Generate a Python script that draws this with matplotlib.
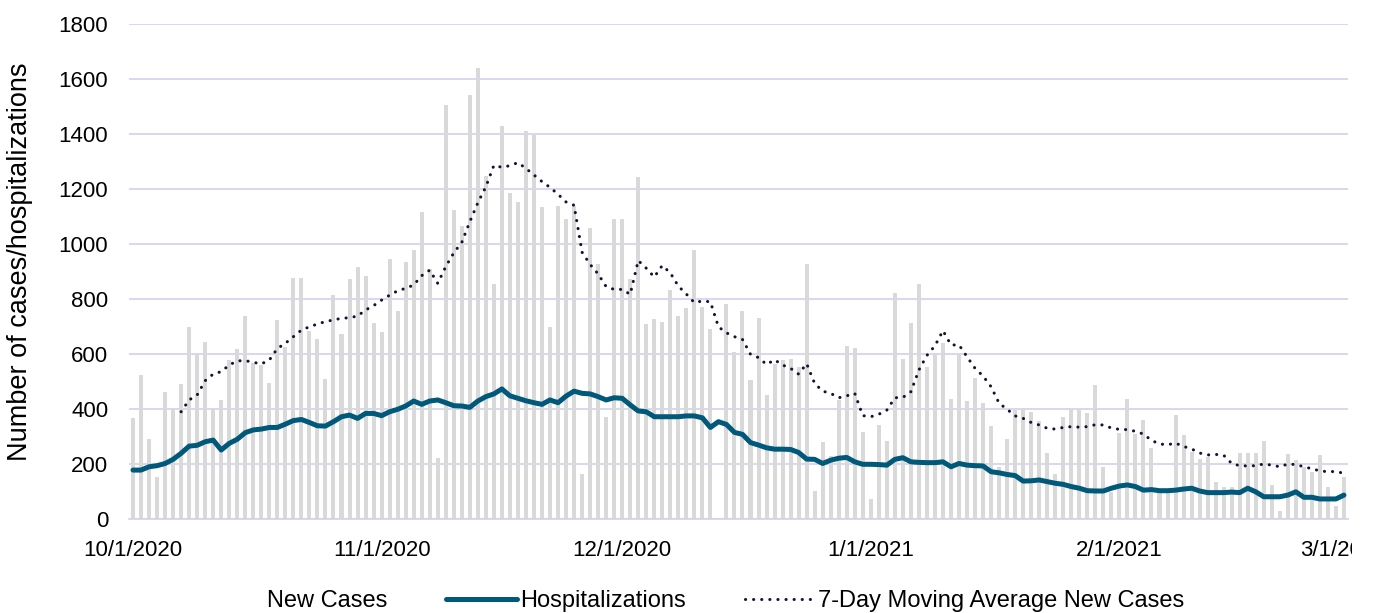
# -*- coding: utf-8 -*-
# covid_cases_chart.py
# daily new cases (bars), hospitalizations and 7-day moving average

import pandas as pd
import matplotlib
matplotlib.use("Agg")
from matplotlib import pyplot as plt
from matplotlib.patches import Patch
from matplotlib.lines import Line2D
from matplotlib.transforms import Bbox

plt.rcParams['font.family'] = ['Liberation Sans', 'DejaVu Sans']

# 数据 (10/1/2020 - 3/1/2021)
dates = pd.date_range('2020-10-01', '2021-03-01', freq='D')

new_cases = [366, 522, 291, 153, 463, 405, 492, 697, 599, 642,
             405, 434, 578, 618, 739, 568, 560, 494, 724, 625,
             877, 877, 685, 653, 508, 815, 673, 873, 915, 885,
             713, 681, 945, 756, 935, 977, 1115, 910, 223, 1505,
             1124, 1065, 1542, 1639, 1246, 856, 1429, 1185, 1154, 1410,
             1396, 1133, 699, 1138, 1090, 1140, 164, 1057, 927, 370,
             1091, 1091, 874, 1244, 709, 727, 715, 834, 738, 766,
             979, 772, 691, 0, 781, 608, 756, 504, 730, 451,
             565, 578, 581, 554, 926, 103, 281, 230, 433, 628,
             621, 315, 73, 341, 284, 822, 582, 713, 855, 554,
             599, 641, 436, 596, 429, 514, 423, 338, 190, 292,
             396, 405, 390, 358, 240, 164, 372, 405, 400, 384,
             487, 188, 100, 314, 435, 311, 360, 257, 100, 100,
             380, 305, 245, 218, 226, 136, 118, 118, 241, 241,
             241, 285, 124, 30, 236, 215, 190, 172, 233, 115,
             47, 154]

hospitalizations = [178, 178, 190, 194, 202, 217, 239, 265, 268, 281,
                    287, 251, 275, 290, 314, 324, 327, 333, 333, 345,
                    358, 362, 351, 339, 338, 354, 372, 378, 366, 384,
                    384, 376, 390, 399, 411, 429, 417, 429, 433, 423,
                    412, 411, 406, 429, 445, 455, 473, 448, 439, 430,
                    423, 417, 433, 423, 447, 465, 457, 455, 445, 433,
                    441, 439, 415, 393, 390, 372, 372, 372, 372, 375,
                    375, 368, 333, 354, 344, 315, 308, 278, 269, 259,
                    254, 254, 253, 242, 218, 217, 202, 214, 221, 224,
                    208, 199, 199, 198, 196, 217, 223, 208, 206, 205,
                    205, 208, 190, 202, 196, 194, 193, 172, 168, 162,
                    158, 138, 139, 142, 136, 130, 126, 118, 112, 103,
                    102, 102, 112, 120, 124, 118, 105, 107, 103, 103,
                    105, 109, 112, 102, 96, 96, 96, 98, 96, 112,
                    99, 81, 81, 81, 87, 99, 79, 79, 73, 73,
                    73, 87]

moving_avg = [None, None, None, None, None, None, 390, 433, 451, 503,
              527, 536, 560, 575, 576, 570, 564, 578, 620, 639,
              663, 687, 699, 709, 718, 724, 730, 732, 738, 760,
              776, 796, 814, 830, 839, 851, 885, 905, 857, 918,
              968, 1006, 1081, 1150, 1208, 1286, 1279, 1285, 1296, 1275,
              1251, 1227, 1206, 1181, 1153, 1141, 970, 926, 891, 845,
              835, 835, 817, 940, 912, 880, 922, 895, 847, 818,
              787, 793, 790, 699, 677, 663, 653, 599, 587, 562,
              579, 560, 548, 527, 565, 493, 465, 457, 441, 448,
              457, 376, 372, 381, 396, 441, 442, 463, 542, 595,
              630, 685, 633, 633, 590, 548, 520, 481, 421, 399,
              375, 366, 351, 342, 330, 327, 333, 336, 334, 336,
              343, 342, 331, 326, 325, 319, 309, 286, 273, 270,
              276, 264, 255, 240, 233, 235, 232, 202, 194, 193,
              194, 200, 196, 190, 200, 198, 190, 183, 175, 172,
              173, 166]

tick_dates = ['2020-10-01', '2020-11-01', '2020-12-01', '2021-01-01', '2021-02-01', '2021-03-01']
tick_labels = ['10/1/2020', '11/1/2020', '12/1/2020', '1/1/2021', '2/1/2021', '3/1/2021']

bar_color = '#d9d9d9'
hosp_color = '#00587a'
avg_color = '#141432'
grid_color = '#d4d4f2'
dots = (0, (0.05, 2.6))

fig = plt.figure(figsize=(13.78, 6.13), dpi=100)
ax = fig.add_axes([0.0936, 0.1533, 0.8846, 0.8075])

ax.bar(dates, new_cases, width=0.5, color=bar_color, zorder=2)
ax.plot(dates, hospitalizations, color=hosp_color, linewidth=3.6,
        solid_joinstyle='round', solid_capstyle='round', zorder=3)
ma = pd.Series(moving_avg, index=dates, dtype=float)
ax.plot(ma.index, ma.values, color=avg_color, linewidth=2.2,
        linestyle=dots, dash_capstyle='round', zorder=4)

# 坐标轴
ax.set_ylim(0, 1800)
ax.set_yticks(range(0, 1801, 200))
ax.set_xlim(dates[0] - pd.Timedelta(hours=12), dates[-1] + pd.Timedelta(hours=12))
ax.set_xticks(pd.to_datetime(tick_dates))
ax.set_xticklabels(tick_labels)
ax.tick_params(axis='both', length=0, labelsize=16, colors='black')
ax.tick_params(axis='x', pad=15)
ax.tick_params(axis='y', pad=15)

ax.grid(axis='y', color=grid_color, linewidth=1.3, zorder=0)
ax.set_axisbelow(True)
for s in ['top', 'right', 'left']:
    ax.spines[s].set_visible(False)
ax.spines['bottom'].set_color(grid_color)
ax.spines['bottom'].set_linewidth(1.3)

ax.set_ylabel('Number of cases/hospitalizations', fontsize=19.5)
ax.yaxis.set_label_coords(-0.079, 0.52)

# last date label is cut at the chart edge like the original
last = ax.get_xticklabels()[-1]
last.set_clip_on(True)
last.set_clip_box(Bbox([[0, 0], [1352, 613]]))

# 图例
handles = [Patch(facecolor='none', edgecolor='none'),
           Line2D([], [], color=hosp_color, linewidth=3.6, solid_capstyle='round'),
           Line2D([], [], color=avg_color, linewidth=2.2, linestyle=dots,
                  dash_capstyle='round')]
fig.legend(handles, ['New Cases', 'Hospitalizations', '7-Day Moving Average New Cases'],
           loc='lower center', bbox_to_anchor=(0.5, -0.033), ncol=3, frameon=False,
           fontsize=17, handlelength=3.0, handletextpad=0.12, columnspacing=2.5)

plt.savefig('out.png', dpi=100)
